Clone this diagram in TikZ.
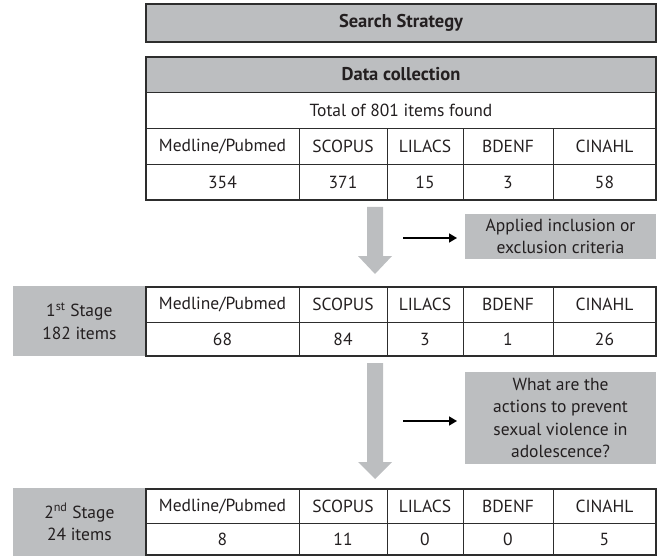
\documentclass[tikz,border=0pt]{standalone}
\usepackage{fontspec}
\setmainfont{PT Sans}
\usetikzlibrary{arrows.meta}
\definecolor{boxgray}{RGB}{188,190,192}
\definecolor{linegray}{RGB}{45,45,45}
\definecolor{txt}{RGB}{35,31,32}
\begin{document}
\begin{tikzpicture}[x=1pt,y=-1pt,
  txtfont/.style={font=\fontsize{17.5}{22.5}\selectfont, text=txt},
  cell/.style={draw=linegray, line width=0.9pt, inner sep=0pt, outer sep=0pt, anchor=north west, txtfont, align=center},
  headcell/.style={cell, fill=boxgray, font=\fontsize{18.5}{22.5}\selectfont\bfseries},
  graybox/.style={fill=boxgray, inner sep=0pt, outer sep=0pt, anchor=north west, txtfont, align=center},
  outer/.style={draw=linegray, line width=1.6pt},
  blockarrow/.style={fill=boxgray, draw=none},
  blackarrow/.style={draw=black, line width=1.4pt, -{Triangle[length=8pt,width=9pt]}}
]
\useasboundingbox (0,0) rectangle (661,556);

% Search strategy
\node[headcell, minimum width=510pt, minimum height=38pt] (ss) at (146,4) {Search Strategy};
\draw[outer] (ss.north west) rectangle (ss.south east);

% Data collection table
\node[headcell, minimum width=510pt, minimum height=35pt] (dc) at (146,57) {Data collection};
\node[cell, minimum width=510pt, minimum height=36pt] (tot) at (146,92) {Total of 801 items found};
\node[cell, minimum width=153pt, minimum height=36pt] (a1) at (146,128) {Medline/Pubmed};
\node[cell, minimum width=88pt, minimum height=36pt] (a2) at (299,128) {SCOPUS};
\node[cell, minimum width=76pt, minimum height=36pt] (a3) at (387,128) {LILACS};
\node[cell, minimum width=90pt, minimum height=36pt] (a4) at (463,128) {BDENF};
\node[cell, minimum width=103pt, minimum height=36pt] (a5) at (553,128) {CINAHL};
\node[cell, minimum width=153pt, minimum height=36pt] (b1) at (146,164) {354};
\node[cell, minimum width=88pt, minimum height=36pt] (b2) at (299,164) {371};
\node[cell, minimum width=76pt, minimum height=36pt] (b3) at (387,164) {15};
\node[cell, minimum width=90pt, minimum height=36pt] (b4) at (463,164) {3};
\node[cell, minimum width=103pt, minimum height=36pt] (b5) at (553,164) {58};
\draw[outer] (dc.north west) rectangle (b5.south east);

% Arrow 1
\fill[blockarrow] (367,207) -- (383,207) -- (383,256) -- (392,256) -- (375,274) -- (358,256) -- (367,256) -- cycle;
\node[graybox, minimum width=191pt, minimum height=45pt] (crit) at (465,214) {Applied inclusion or\\exclusion criteria};
\coordinate (s1) at (403,238);
\draw[blackarrow] (s1) -- ([xshift=-8pt]crit.west |- s1);

% Stage 1
\node[graybox, minimum width=133.3pt, minimum height=70pt] (st1) at (12.7,286) {1\textsuperscript{st} Stage\\182 items};
\node[cell, minimum width=153pt, minimum height=35pt] (c1) at (146,287) {Medline/Pubmed};
\node[cell, minimum width=88pt, minimum height=35pt] (c2) at (299,287) {SCOPUS};
\node[cell, minimum width=76pt, minimum height=35pt] (c3) at (387,287) {LILACS};
\node[cell, minimum width=90pt, minimum height=35pt] (c4) at (463,287) {BDENF};
\node[cell, minimum width=103pt, minimum height=35pt] (c5) at (553,287) {CINAHL};
\node[cell, minimum width=153pt, minimum height=34pt] (d1) at (146,322) {68};
\node[cell, minimum width=88pt, minimum height=34pt] (d2) at (299,322) {84};
\node[cell, minimum width=76pt, minimum height=34pt] (d3) at (387,322) {3};
\node[cell, minimum width=90pt, minimum height=34pt] (d4) at (463,322) {1};
\node[cell, minimum width=103pt, minimum height=34pt] (d5) at (553,322) {26};
\draw[outer] (c1.north west) rectangle (d5.south east);

% Arrow 2
\fill[blockarrow] (367,363) -- (383,363) -- (383,462) -- (392,462) -- (375,479) -- (358,462) -- (367,462) -- cycle;
\node[graybox, minimum width=191pt, minimum height=92pt] (q) at (465,372) {What are the\\actions to prevent\\sexual violence in\\adolescence?};
\coordinate (s2) at (403,421);
\draw[blackarrow] (s2) -- ([xshift=-8pt]q.west |- s2);

% Stage 2
\node[graybox, minimum width=133.3pt, minimum height=68pt] (st2) at (12.7,488) {2\textsuperscript{nd} Stage\\24 items};
\node[cell, minimum width=153pt, minimum height=34pt] (e1) at (146,489) {Medline/Pubmed};
\node[cell, minimum width=88pt, minimum height=34pt] (e2) at (299,489) {SCOPUS};
\node[cell, minimum width=76pt, minimum height=34pt] (e3) at (387,489) {LILACS};
\node[cell, minimum width=90pt, minimum height=34pt] (e4) at (463,489) {BDENF};
\node[cell, minimum width=103pt, minimum height=34pt] (e5) at (553,489) {CINAHL};
\node[cell, minimum width=153pt, minimum height=32pt] (f1) at (146,523) {8};
\node[cell, minimum width=88pt, minimum height=32pt] (f2) at (299,523) {11};
\node[cell, minimum width=76pt, minimum height=32pt] (f3) at (387,523) {0};
\node[cell, minimum width=90pt, minimum height=32pt] (f4) at (463,523) {0};
\node[cell, minimum width=103pt, minimum height=32pt] (f5) at (553,523) {5};
\draw[outer] (e1.north west) rectangle (f5.south east);
\end{tikzpicture}
\end{document}
